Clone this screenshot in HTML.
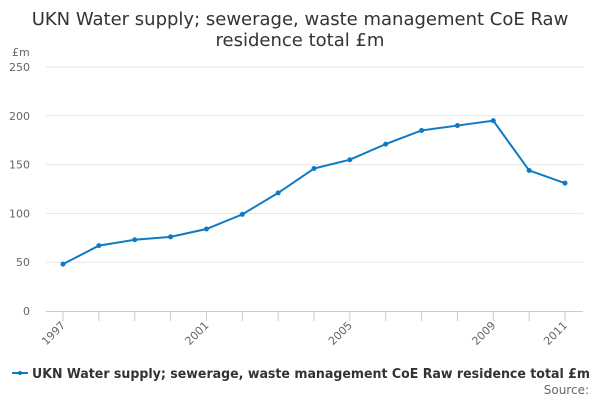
<!DOCTYPE html>
<html><head><meta charset="utf-8"><style>
body{margin:0;background:#fff;font-family:"DejaVu Sans","Liberation Sans",sans-serif;}
svg text{font-family:"DejaVu Sans","Liberation Sans",sans-serif;}
</style></head><body>
<svg id="chart" width="600" height="400" viewBox="0 0 600 400" xmlns="http://www.w3.org/2000/svg">
<text x="300" y="25" text-anchor="middle" font-size="18" fill="#333">UKN Water supply; sewerage, waste management CoE Raw</text>
<text x="300" y="46" text-anchor="middle" font-size="18" fill="#333">residence total £m</text>
<text x="12" y="56" font-size="11" fill="#666">£m</text>
<g id="grid"></g><g id="xaxis"></g><g id="series"></g>
<g>
<line x1="12" y1="373" x2="28" y2="373" stroke="#0e7ac4" stroke-width="2"/>
<circle cx="20" cy="373" r="2" fill="#0e7ac4"/>
<text x="32" y="378" font-size="13" font-weight="bold" fill="#333" textLength="558" lengthAdjust="spacingAndGlyphs">UKN Water supply; sewerage, waste management CoE Raw residence total £m</text>
</g>
<text x="589" y="394" text-anchor="end" font-size="12" fill="#666">Source:</text>
</svg>
<script>
const years=[1997,1998,1999,2000,2001,2002,2003,2004,2005,2006,2007,2008,2009,2010,2011];
const values=[48,67,73,76,84,99,121,146,155,171,185,190,195,144,131];
const yTicks=[0,50,100,150,200,250];
const xLabels=[1997,2001,2005,2009,2011];
const NS="http://www.w3.org/2000/svg";
const x=yr=>63+(yr-1997)*(565-63)/14;
const y=v=>311-v*(311-67)/250;
function mk(tag,attrs,parent){const e=document.createElementNS(NS,tag);for(const k in attrs)e.setAttribute(k,attrs[k]);document.getElementById(parent).appendChild(e);return e;}
yTicks.forEach(t=>{
 if(t>0){const g=mk('line',{x1:46,x2:583,y1:y(t),y2:y(t),stroke:'#e6e6e6'},'grid');
 
 }
 const l=mk('text',{x:30,y:y(t)+4,'text-anchor':'end','font-size':11,fill:'#666'},'grid');l.textContent=t;
 
 
});
const ax=mk('line',{x1:46,x2:583,y1:311.5,y2:311.5,stroke:'#c0cce0'},'xaxis');


years.forEach(yr=>{
 const t=mk('line',{x1:x(yr),x2:x(yr),y1:311,y2:321,stroke:'#c0cce0'},'xaxis');
 
 
});
xLabels.forEach(yr=>{
 const l=mk('text',{x:x(yr)+3,y:326,'text-anchor':'end','font-size':11,fill:'#666',transform:`rotate(-45 ${x(yr)+3} 326)`},'xaxis');l.textContent=yr;
 
 
});
const p=mk('polyline',{points:years.map((yr,i)=>x(yr)+','+y(values[i])).join(' '),fill:'none',stroke:'#0e7ac4','stroke-width':2},'series');


years.forEach((yr,i)=>{
 const c=mk('circle',{cx:x(yr),cy:y(values[i]),r:2.5,fill:'#0e7ac4'},'series');
 
 
});
</script>
</body></html>
